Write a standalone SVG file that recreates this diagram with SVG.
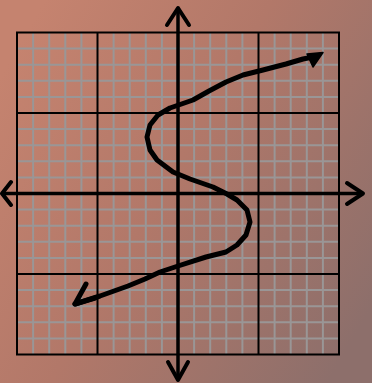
<svg xmlns="http://www.w3.org/2000/svg" width="372" height="383" viewBox="0 0 372 383">
<defs>
<linearGradient id="bg" x1="0" y1="0.2" x2="1" y2="0.8">
<stop offset="0" stop-color="#c5836f"/>
<stop offset="0.45" stop-color="#b27869"/>
<stop offset="1" stop-color="#8d6f6b"/>
</linearGradient>
<style>
.minor{stroke:#9a9696;stroke-width:2;fill:none}
.major{stroke:#000;stroke-width:2;fill:none}
.axis{stroke:#000;stroke-width:3.5;fill:none}
.chev{stroke:#000;stroke-width:4;fill:none;stroke-linecap:round;stroke-linejoin:round}
.curve{stroke:#000;stroke-width:5;fill:none;stroke-linecap:round;stroke-linejoin:round}
</style>
</defs>
<rect x="0" y="0" width="372" height="383" fill="url(#bg)"/>
<g id="grid">
<path class="minor" d="M33.1 32.5V354.5M49.2 32.5V354.5M65.3 32.5V354.5M81.4 32.5V354.5M113.6 32.5V354.5M129.7 32.5V354.5M145.8 32.5V354.5M161.9 32.5V354.5M194.1 32.5V354.5M210.2 32.5V354.5M226.3 32.5V354.5M242.4 32.5V354.5M274.6 32.5V354.5M290.7 32.5V354.5M306.8 32.5V354.5M322.9 32.5V354.5
M17 48.6H339M17 64.7H339M17 80.8H339M17 96.9H339M17 129.1H339M17 145.2H339M17 161.3H339M17 177.4H339M17 209.6H339M17 225.7H339M17 241.8H339M17 257.9H339M17 290.1H339M17 306.2H339M17 322.3H339M17 338.4H339"/>
<path class="major" d="M97.5 32.5V354.5M258.5 32.5V354.5M17 113H339M17 274H339"/>
<rect class="major" x="17" y="32.5" width="322" height="322"/>
</g>
<g id="axes">
<path class="axis" d="M178 9V379M3 193.5H362"/>
<polyline class="chev" points="167,25 178,8 189,25"/>
<polyline class="chev" points="168,362 178,380 188,362"/>
<polyline class="chev" points="11,182 2,193.5 11,205"/>
<polyline class="chev" points="347,183 363,193.5 347,204"/>
</g>
<g id="curve">
<polyline class="curve" points="75,304 100,296 128,286 145,279 160,272 178,266 206,257 226,252 237,245 246,235 250,222 247,210 237,200 227,194 213,187 190,179 173,172 157,160 150,150 147,137 150,125 158,115 170,108 193,100 209,91 226,82 243,75 263,70 286,64 303,59 313,57"/>
<polyline class="curve" points="86,284 75,304 95,298"/>
<polygon points="307,54 323,52.5 313,67" fill="#000" stroke="#000" stroke-width="1.5" stroke-linejoin="round"/>
</g>
</svg>
